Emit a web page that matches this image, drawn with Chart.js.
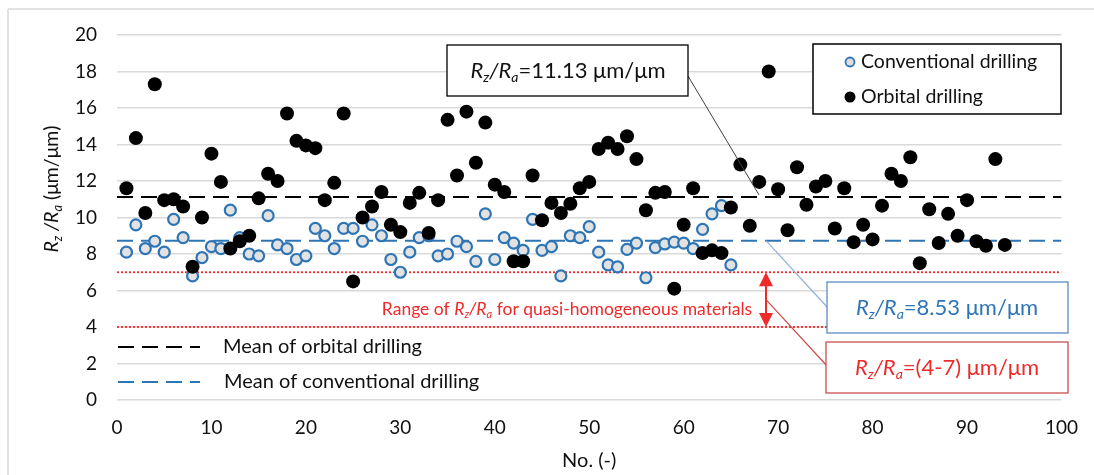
<!DOCTYPE html>
<html>
<head>
<meta charset="utf-8">
<script src="https://cdn.jsdelivr.net/npm/chart.js@4"></script>
<style>
  body { margin: 0; background: #fff; }
  canvas { display: block; }
</style>
</head>
<body>
<canvas id="chart" width="1094" height="475"></canvas>
<script>
// values (index = No. starting at 1)
const conventional = [8.1, 9.6, 8.3, 8.7, 8.1, 9.9, 8.9, 6.8, 7.8, 8.4,
  8.3, 10.4, 8.9, 8.0, 7.9, 10.1, 8.5, 8.3, 7.7, 7.9,
  9.4, 9.0, 8.3, 9.4, 9.4, 8.7, 9.6, 9.0, 7.7, 7.0,
  8.1, 8.9, 9.0, 7.9, 8.0, 8.7, 8.4, 7.6, 10.2, 7.7,
  8.9, 8.6, 8.2, 9.9, 8.2, 8.4, 6.8, 9.0, 8.9, 9.5,
  8.1, 7.4, 7.3, 8.25, 8.6, 6.7, 8.35, 8.55, 8.65, 8.6,
  8.3, 9.35, 10.2, 10.65, 7.4];
const orbital = [11.6, 14.35, 10.25, 17.3, 10.95, 11.0, 10.6, 7.3, 10.0, 13.5,
  11.95, 8.3, 8.7, 9.0, 11.05, 12.4, 12.0, 15.7, 14.2, 13.95,
  13.8, 10.95, 11.9, 15.7, 6.5, 10.0, 10.6, 11.4, 9.6, 9.2,
  10.8, 11.35, 9.15, 10.95, 15.35, 12.3, 15.8, 13.0, 15.2, 11.8,
  11.4, 7.6, 7.6, 12.3, 9.85, 10.8, 10.25, 10.75, 11.6, 11.95,
  13.75, 14.1, 13.75, 14.45, 13.2, 10.4, 11.35, 11.4, 6.1, 9.6,
  11.6, 8.05, 8.2, 8.05, 10.55, 12.9, 9.55, 11.95, 18.0, 11.55,
  9.3, 12.75, 10.7, 11.7, 12.0, 9.4, 11.6, 8.65, 9.6, 8.8,
  10.65, 12.4, 12.0, 13.3, 7.5, 10.45, 8.6, 10.2, 9.0, 10.95,
  8.7, 8.45, 13.2, 8.5];
const meanOrbital = 11.13;
const meanConventional = 8.53;
const meanConventionalLine = 8.73;   // where the dashed line sits in the picture
const rangeLow = 4;
const rangeHigh = 7;
const xRange = [0, 100];
const yRange = [0, 20];
const xStep = 10;
const yStep = 2;

const FONT = "Lato, 'Noto Sans', sans-serif";
const BLUE = '#2e75b6';
const RED = '#ee2a2a';

const toPts = arr => arr.map((v, i) => ({ x: i + 1, y: v }));
const hline = v => [{ x: xRange[0], y: v }, { x: xRange[1], y: v }];

function fontFor(p, size) {
  return (p.i ? 'italic ' : '') + (p.s ? Math.round(size * 0.65) : size) + 'px ' + FONT;
}
function drawRich(ctx, parts, x, y, size, color, align) {
  let w = 0;
  parts.forEach(p => { ctx.font = fontFor(p, size); w += ctx.measureText(p.t).width; });
  let cx = align === 'left' ? x : x - w / 2;
  ctx.fillStyle = color;
  ctx.textBaseline = 'middle';
  ctx.textAlign = 'left';
  parts.forEach(p => {
    ctx.font = fontFor(p, size);
    ctx.fillText(p.t, cx, y + (p.s ? size * 0.3 : 0));
    cx += ctx.measureText(p.t).width;
  });
}
const rzra = (sep, rest) => [
  { t: 'R', i: 1 }, { t: 'z', i: 1, s: 1 }, { t: sep, i: 1 },
  { t: 'R', i: 1 }, { t: 'a', i: 1, s: 1 }, { t: rest }
];

function box(ctx, x, y, w, h, stroke, lw) {
  ctx.fillStyle = '#fff';
  ctx.fillRect(x, y, w, h);
  ctx.strokeStyle = stroke;
  ctx.lineWidth = lw;
  ctx.strokeRect(x, y, w, h);
}
function line(ctx, x1, y1, x2, y2, color, lw, dash) {
  ctx.save();
  ctx.strokeStyle = color;
  ctx.lineWidth = lw;
  ctx.setLineDash(dash || []);
  ctx.beginPath();
  ctx.moveTo(x1, y1);
  ctx.lineTo(x2, y2);
  ctx.stroke();
  ctx.restore();
}

const annotations = {
  id: 'annotations',
  beforeDraw(chart) {
    const ctx = chart.ctx;
    // faint outer frame (top and left)
    line(ctx, 8, 9, 1094, 9, '#d9d9d9', 1.5);
    line(ctx, 8, 9, 8, 475, '#d9d9d9', 1.5);
  },
  afterDraw(chart) {
    const ctx = chart.ctx;
    const ys = chart.scales.y;
    ctx.save();

    // y axis title with subscripts
    ctx.save();
    ctx.translate(52, 189);
    ctx.rotate(-Math.PI / 2);
    drawRich(ctx, rzra(' /', ' (μm/μm)'), 0, 0, 19.5, '#111', 'center');
    ctx.restore();

    // connectors
    const yO = ys.getPixelForValue(meanOrbital);
    const yC = ys.getPixelForValue(meanConventionalLine);
    const yHi = ys.getPixelForValue(rangeHigh);
    const yLo = ys.getPixelForValue(rangeLow);
    const ax = 766;
    line(ctx, 688, 76, 759, yO - 2, '#404040', 1);
    line(ctx, ax, yC, 828, 308, '#8fb0d8', 1.2);
    line(ctx, ax, (yHi + yLo) / 2, 828, 367, '#d04848', 1.2);

    // red double arrow
    ctx.fillStyle = RED;
    line(ctx, ax, yHi + 10, ax, yLo - 10, RED, 2);
    ctx.beginPath();
    ctx.moveTo(ax, yHi); ctx.lineTo(ax - 7, yHi + 14); ctx.lineTo(ax + 7, yHi + 14); ctx.closePath(); ctx.fill();
    ctx.beginPath();
    ctx.moveTo(ax, yLo); ctx.lineTo(ax - 7, yLo - 14); ctx.lineTo(ax + 7, yLo - 14); ctx.closePath(); ctx.fill();

    // red range text
    drawRich(ctx, [{ t: 'Range of ' }].concat(rzra('/', ' for quasi-homogeneous materials')),
      567, 309, 17.5, RED, 'center');

    // value boxes
    box(ctx, 447, 45, 241, 51, '#000', 1.3);
    drawRich(ctx, rzra('/', '=' + meanOrbital.toFixed(2) + ' μm/μm'), 568, 71, 22, '#111', 'center');
    box(ctx, 827, 282, 241, 51, '#5b8cc2', 1.3);
    drawRich(ctx, rzra('/', '=' + meanConventional.toFixed(2) + ' μm/μm'), 947, 308, 22, BLUE, 'center');
    box(ctx, 826, 342, 242, 51, '#c85050', 1.3);
    drawRich(ctx, rzra('/', '=(' + rangeLow + '-' + rangeHigh + ') μm/μm'), 947, 368, 22, RED, 'center');

    // legend (top right)
    box(ctx, 813, 44, 248, 70, '#000', 1.5);
    ctx.beginPath();
    ctx.arc(850, 62, 4.5, 0, Math.PI * 2);
    ctx.fillStyle = '#dedede'; ctx.fill();
    ctx.strokeStyle = BLUE; ctx.lineWidth = 1.8; ctx.stroke();
    ctx.beginPath();
    ctx.arc(850, 97, 5.5, 0, Math.PI * 2);
    ctx.fillStyle = '#000'; ctx.fill();
    drawRich(ctx, [{ t: 'Conventional drilling' }], 861, 62, 19.5, '#111', 'left');
    drawRich(ctx, [{ t: 'Orbital drilling' }], 861, 97, 19.5, '#111', 'left');

    // legend for mean lines (bottom left)
    line(ctx, 118, 347, 200, 347, '#000', 2, [16, 8]);
    line(ctx, 118, 382, 200, 382, BLUE, 2, [16, 8]);
    drawRich(ctx, [{ t: 'Mean of orbital drilling' }], 223, 347, 20, '#111', 'left');
    drawRich(ctx, [{ t: 'Mean of conventional drilling' }], 224, 382, 20, '#111', 'left');

    ctx.restore();
  }
};

const ctx = document.getElementById('chart').getContext('2d');
new Chart(ctx, {
  type: 'scatter',
  data: {
    datasets: [
      {
        label: 'Orbital drilling',
        data: toPts(orbital),
        pointRadius: 7,
        backgroundColor: '#000',
        borderColor: '#000',
        borderWidth: 0,
        order: 1
      },
      {
        label: 'Conventional drilling',
        data: toPts(conventional),
        pointRadius: 5.5,
        backgroundColor: '#e2e2e2',
        borderColor: BLUE,
        borderWidth: 2.2,
        order: 2
      },
      {
        type: 'line',
        label: 'Mean of orbital drilling',
        data: hline(meanOrbital),
        borderColor: '#000',
        borderWidth: 2,
        borderDash: [16, 8],
        pointRadius: 0,
        order: 3
      },
      {
        type: 'line',
        label: 'Mean of conventional drilling',
        data: hline(meanConventionalLine),
        borderColor: BLUE,
        borderWidth: 2,
        borderDash: [16, 8],
        pointRadius: 0,
        order: 3
      },
      {
        type: 'line',
        label: 'upper range',
        data: hline(rangeHigh),
        borderColor: RED,
        borderWidth: 1.8,
        borderDash: [2, 2],
        pointRadius: 0,
        order: 4
      },
      {
        type: 'line',
        label: 'lower range',
        data: hline(rangeLow),
        borderColor: RED,
        borderWidth: 1.8,
        borderDash: [2, 2],
        pointRadius: 0,
        order: 4
      }
    ]
  },
  options: {
    responsive: false,
    animation: false,
    devicePixelRatio: 1,
    layout: { padding: { top: 35, right: 26, left: 0, bottom: 0 } },
    plugins: {
      legend: { display: false },
      tooltip: { enabled: false }
    },
    scales: {
      x: {
        type: 'linear',
        min: xRange[0],
        max: xRange[1],
        ticks: { stepSize: xStep, padding: 16, color: '#111', font: { family: FONT, size: 19 } },
        grid: { display: false, drawTicks: false },
        border: { display: false },
        title: { display: true, text: 'No. (-)', color: '#111', padding: { top: 0, bottom: 2 }, font: { family: FONT, size: 20 } },
        afterFit(s) { s.height = 75; }
      },
      y: {
        min: yRange[0],
        max: yRange[1],
        ticks: { stepSize: yStep, padding: 20, color: '#111', font: { family: FONT, size: 19 } },
        grid: { color: '#d9d9d9', lineWidth: 1.5, drawTicks: false },
        border: { display: false },
        afterFit(s) { s.width = 117; }
      }
    }
  },
  plugins: [annotations]
});
</script>
</body>
</html>
